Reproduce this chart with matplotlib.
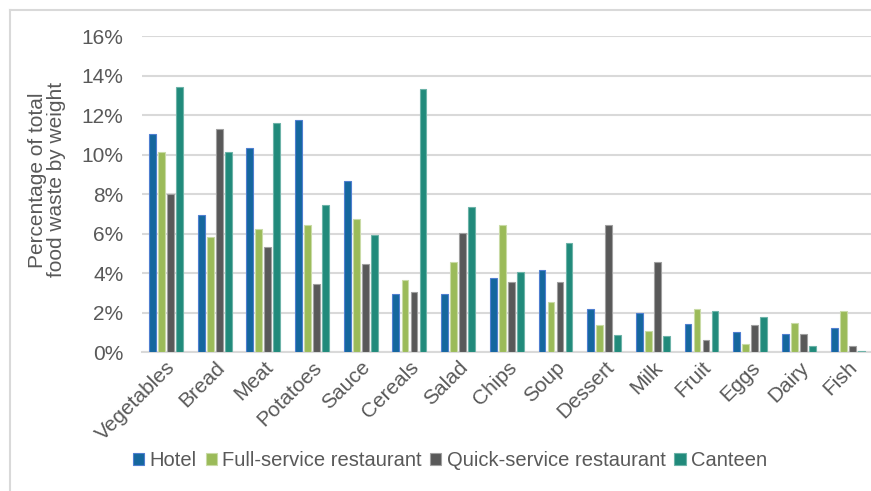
import matplotlib
matplotlib.use("Agg")
import matplotlib.pyplot as plt
from matplotlib.patches import Patch
from matplotlib.lines import Line2D
from matplotlib.ticker import FuncFormatter
import numpy as np

plt.rcParams['font.family'] = ['Liberation Sans', 'DejaVu Sans']

categories = ["Vegetables", "Bread", "Meat", "Potatoes", "Sauce", "Cereals", "Salad",
              "Chips", "Soup", "Dessert", "Milk", "Fruit", "Eggs", "Dairy", "Fish"]
series_names = ["Hotel", "Full-service restaurant", "Quick-service restaurant", "Canteen"]

hotel = [11.05, 6.93, 10.32, 11.77, 8.69, 2.93, 2.93, 3.74, 4.16, 2.21, 2.00, 1.43, 1.04, 0.93, 1.23]
full_service = [10.14, 5.82, 6.22, 6.44, 6.75, 3.66, 4.59, 6.44, 2.53, 1.38, 1.06, 2.20, 0.43, 1.47, 2.07]
quick_service = [8.00, 11.28, 5.31, 3.46, 4.49, 3.05, 6.02, 3.56, 3.56, 6.44, 4.56, 0.63, 1.36, 0.94, 0.33]
canteen = [13.44, 10.14, 11.59, 7.45, 5.94, 13.32, 7.37, 4.08, 5.52, 0.86, 0.84, 2.07, 1.80, 0.33, 0.05]

face_colors = ["#15679E", "#9BBB59", "#595959", "#218A7B"]
edge_colors = ["#4F7FD0", "#C9DBA6", "#A0A0A0", "#6DB3A8"]

fig = plt.figure(figsize=(8.71, 4.91), dpi=100)
ax = fig.add_axes([141.6 / 871, 1 - 352.3 / 491, (872 - 141.6) / 871, (352.3 - 36) / 491])

x = np.arange(len(categories))
pitch = 0.185
width = 0.14
for i, (vals, fc, ec) in enumerate(zip([hotel, full_service, quick_service, canteen],
                                        face_colors, edge_colors)):
    ax.bar(x + (i - 1.5) * pitch, np.array(vals) / 100, width=width,
           color=fc, edgecolor=ec, linewidth=0.8, zorder=3)

ax.set_xlim(-0.5, len(categories) - 0.5)
ax.set_ylim(0, 0.16)
ax.set_yticks(np.arange(0, 0.161, 0.02))
ax.yaxis.set_major_formatter(FuncFormatter(lambda v, _: f"{v * 100:.0f}%"))
ax.grid(axis='y', color='#D9D9D9', linewidth=1.5, zorder=0)
for s in ['top', 'right', 'left']:
    ax.spines[s].set_visible(False)
ax.spines['bottom'].set_color('#D9D9D9')
ax.spines['bottom'].set_linewidth(1.5)
ax.tick_params(axis='y', length=0, pad=13, labelsize=15, labelcolor='#595959')
ax.tick_params(axis='x', length=0, pad=4, labelsize=15, labelcolor='#595959')
ax.set_xticks(x)
ax.set_xticklabels(categories, rotation=45, ha='right', va='top', rotation_mode='anchor')

ax.set_ylabel("Percentage of total\nfood waste by weight", fontsize=15, color='#595959',
              linespacing=1.05)
ax.yaxis.set_label_coords(-0.103, 0.545)

handles = [Patch(facecolor=fc, edgecolor=ec, linewidth=0.8) for fc, ec in zip(face_colors, edge_colors)]
fig.legend(handles, series_names, loc='center', bbox_to_anchor=(450 / 871, 1 - 461 / 491),
           ncol=4, frameon=False, fontsize=14.5, handlelength=0.55, handleheight=0.55,
           handletextpad=0.25, columnspacing=0.45, labelcolor='#595959')

# outer chart frame
fl = 9.5 / 871
ft = 1 - 9.5 / 491
fig.add_artist(Line2D([fl, fl], [0, ft], transform=fig.transFigure, color='#D9D9D9', linewidth=1.5))
fig.add_artist(Line2D([fl, 1], [ft, ft], transform=fig.transFigure, color='#D9D9D9', linewidth=1.5))

fig.savefig("out.png", dpi=100)
